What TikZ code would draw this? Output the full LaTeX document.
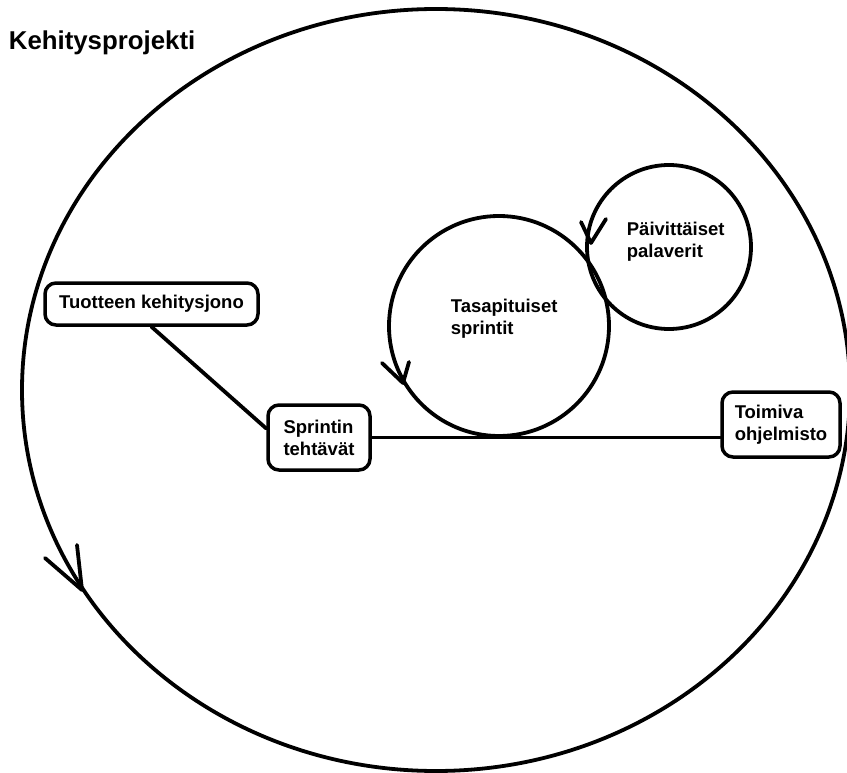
\documentclass[tikz,border=0pt]{standalone}
\usepackage{fontspec}
\setmainfont{Liberation Sans}
\begin{document}
\begin{tikzpicture}[x=1pt,y=-1pt,
  line width=3.8pt, line cap=round, line join=round,
  box/.style={draw, line width=3.5pt, rounded corners=11pt, align=left, inner sep=0pt, font=\bfseries\fontsize{18.5}{22}\selectfont},
  lbl/.style={align=left, inner sep=0pt, anchor=north west, font=\bfseries\fontsize{18.5}{22}\selectfont},
  vhead/.style={line width=3.8pt}]
\useasboundingbox (0,0) rectangle (847,773);
\node[anchor=base west, inner sep=0pt, font=\bfseries\fontsize{25.8}{30}\selectfont] (title) at (7,50) {Kehitysprojekti};
% project cycle
\draw (436,390) ellipse [x radius=414pt, y radius=381pt];
\draw[vhead] (45,558) -- (82,590) -- (77,545);
% sprint cycle
\draw (499,326) circle [radius=110pt];
\draw[vhead] (382,363) -- (403,383) -- (409,362);
% daily cycle
\draw (669,247) circle [radius=82pt];
\draw[vhead] (581,222) -- (591,243) -- (606,219);
% boxes
\node[box, minimum width=213pt, minimum height=42pt] (tuot) at (151.5,304) {Tuotteen kehitysjono};
\node[box, minimum width=102pt, minimum height=65pt] (sprint) at (319,437.5) {Sprintin\\tehtävät};
\node[box, minimum width=118pt, minimum height=65pt] (toim) at (781,424.5) {Toimiva\\ohjelmisto};
\node[lbl] (tasa) at (449,297) {Tasapituiset\\sprintit};
\node[lbl] (paiv) at (625,220) {Päivittäiset\\palaverit};
% connectors
\draw (tuot.south) -- ([yshift=9pt]sprint.west);
\draw (sprint.east) -- (sprint.east -| toim.west);
\end{tikzpicture}
\end{document}
